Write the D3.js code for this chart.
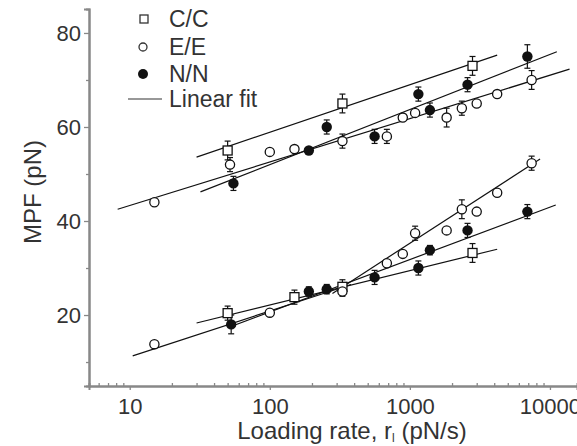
<!DOCTYPE html>
<html>
<head>
<meta charset="utf-8">
<script src="https://cdn.jsdelivr.net/npm/d3@7"></script>
<style>
  body { margin: 0; background: #fff; }
  svg { display: block; font-family: "Liberation Sans", Arial, sans-serif; }
</style>
</head>
<body>
<div id="chart"></div>
<script>
// values (loading rate in pN/s, MPF in pN)
var ccRates  = [50, 330, 2800, 50, 150, 330, 2800];
var ccForces = [55, 65, 73, 20.4, 23.8, 26, 33.2];
var ccErrors = [2, 2, 2, 1.5, 1.5, 1.5, 2];

var eeRates  = [15, 52, 100, 150, 330, 685, 890, 1090, 1830, 2350, 3000, 4200, 7400,
                15, 100, 330, 685, 890, 1090, 1830, 2350, 3000, 4200, 7400];
var eeForces = [44, 52, 54.7, 55.3, 57, 58, 62, 63, 62, 64, 65, 67, 70,
                13.8, 20.5, 25, 31, 33, 37.4, 38, 42.5, 42, 46, 52.3];
var eeErrors = [0, 1.5, 0, 0, 1.5, 1.5, 0, 0, 2, 1.5, 0, 0, 2,
                0, 0, 1, 0, 0, 1.5, 0, 2, 0, 0, 1.5];

var nnRates  = [55, 190, 255, 560, 1150, 1390, 2580, 6900,
                53, 190, 255, 560, 1150, 1390, 2580, 6900];
var nnForces = [48, 55, 60, 58, 67, 63.6, 69, 75,
                18, 25, 25.5, 28, 30, 33.8, 38, 42];
var nnErrors = [1.5, 0, 1.5, 1.5, 1.5, 1.5, 1.5, 2.5,
                2, 1, 1, 1.5, 1.5, 1, 1.5, 1.5];

// linear fits: start/end rate and force
var fitRates  = [[30, 4200], [32, 11200], [8.2, 13800], [30, 4200], [50, 11000], [10.5, 380], [280, 8500]];
var fitForces = [[53.6, 75.3], [46.2, 76], [42.5, 72.3], [18.3, 34], [17.3, 43.4], [11.3, 26.5], [24.6, 53.2]];

var legendLabels = ["C/C", "E/E", "N/N", "Linear fit"];
var yMajor = [20, 40, 60, 80];
var yMinor = [10, 30, 50, 70];
var xMajor = [10, 100, 1000, 10000];

var margin = {top: 9, right: 0, bottom: 60, left: 89},
    width = 577 - margin.left - margin.right,
    height = 446 - margin.top - margin.bottom;

var svg = d3.select("#chart").append("svg")
    .attr("width", 577)
    .attr("height", 446);

var g = svg.append("g")
    .attr("transform", "translate(" + margin.left + "," + margin.top + ")");

var x = d3.scaleLog().domain([5.12, 15600]).range([0, width]);
var y = d3.scaleLinear().domain([4.9, 85.1]).range([height, 0]);

var axisColor = "#888";
var textColor = "#333";

// x minor ticks (2..9 in every decade)
var xMinor = [];
[1, 10, 100, 1000].forEach(function(d) {
    for (var k = 2; k <= 9; k++) xMinor.push(d * k);
});
xMinor = xMinor.filter(function(v) { return v >= 5.12 && v <= 15600; });

var xMinorAxis = g.append("g")
    .attr("transform", "translate(0," + height + ")")
    .call(d3.axisBottom(x).tickValues(xMinor).tickSize(-3).tickFormat(""));
var xAxis = g.append("g")
    .attr("transform", "translate(0," + height + ")")
    .call(d3.axisBottom(x).tickValues(xMajor).tickSize(4).tickPadding(8)
        .tickFormat(d3.format("d")));

var yMinorAxis = g.append("g")
    .call(d3.axisLeft(y).tickValues(yMinor).tickSize(3).tickFormat(""));
var yAxis = g.append("g")
    .call(d3.axisLeft(y).tickValues(yMajor).tickSize(5).tickPadding(3));

[xMinorAxis, xAxis, yMinorAxis, yAxis].forEach(function(a) {
    a.select(".domain").attr("stroke", axisColor).attr("stroke-width", 2);
    a.selectAll(".tick line").attr("stroke", axisColor).attr("stroke-width", 1.3);
    a.selectAll("text").attr("fill", textColor).style("font-size", "22px");
});

// axis titles
g.append("text")
    .attr("transform", "rotate(-90)")
    .attr("x", -(192 - margin.top))
    .attr("y", -48)
    .attr("text-anchor", "middle")
    .attr("fill", textColor)
    .style("font-size", "24px")
    .text("MPF (pN)");

var xl = g.append("text")
    .attr("x", 352 - margin.left)
    .attr("y", 439 - margin.top)
    .attr("text-anchor", "middle")
    .attr("fill", textColor)
    .style("font-size", "24px");
xl.append("tspan").text("Loading rate, r");
xl.append("tspan").attr("dy", 3).style("font-size", "12px").text("l");
xl.append("tspan").attr("dy", -3).text(" (pN/s)");

// fit lines
var fits = fitRates.map(function(r, i) {
    return [[r[0], fitForces[i][0]], [r[1], fitForces[i][1]]];
});
g.selectAll(".fit")
    .data(fits)
    .enter().append("line")
    .attr("class", "fit")
    .attr("x1", function(d) { return x(d[0][0]); })
    .attr("y1", function(d) { return y(d[0][1]); })
    .attr("x2", function(d) { return x(d[1][0]); })
    .attr("y2", function(d) { return y(d[1][1]); })
    .attr("stroke", "#111")
    .attr("stroke-width", 1.2);

function toPoints(rates, forces, errs) {
    return rates.map(function(r, i) { return {r: r, f: forces[i], e: errs[i]}; });
}
var ccData = toPoints(ccRates, ccForces, ccErrors);
var eeData = toPoints(eeRates, eeForces, eeErrors);
var nnData = toPoints(nnRates, nnForces, nnErrors);

// error bars
function drawErrors(data) {
    var eb = g.append("g").selectAll("g")
        .data(data.filter(function(d) { return d.e > 0; }))
        .enter().append("g")
        .attr("stroke", "#111")
        .attr("stroke-width", 1.2);
    eb.append("line")
        .attr("x1", function(d) { return x(d.r); })
        .attr("x2", function(d) { return x(d.r); })
        .attr("y1", function(d) { return y(d.f - d.e); })
        .attr("y2", function(d) { return y(d.f + d.e); });
    eb.append("line")
        .attr("x1", function(d) { return x(d.r) - 3; })
        .attr("x2", function(d) { return x(d.r) + 3; })
        .attr("y1", function(d) { return y(d.f + d.e); })
        .attr("y2", function(d) { return y(d.f + d.e); });
    eb.append("line")
        .attr("x1", function(d) { return x(d.r) - 3; })
        .attr("x2", function(d) { return x(d.r) + 3; })
        .attr("y1", function(d) { return y(d.f - d.e); })
        .attr("y2", function(d) { return y(d.f - d.e); });
}
drawErrors(ccData);
drawErrors(eeData);
drawErrors(nnData);

// markers
g.selectAll(".cc")
    .data(ccData)
    .enter().append("rect")
    .attr("x", function(d) { return x(d.r) - 4.5; })
    .attr("y", function(d) { return y(d.f) - 4.5; })
    .attr("width", 9).attr("height", 9)
    .attr("fill", "#fff").attr("stroke", "#111").attr("stroke-width", 1.3);

g.selectAll(".ee")
    .data(eeData)
    .enter().append("circle")
    .attr("cx", function(d) { return x(d.r); })
    .attr("cy", function(d) { return y(d.f); })
    .attr("r", 4.6)
    .attr("fill", "#fff").attr("stroke", "#111").attr("stroke-width", 1.3);

g.selectAll(".nn")
    .data(nnData)
    .enter().append("circle")
    .attr("cx", function(d) { return x(d.r); })
    .attr("cy", function(d) { return y(d.f); })
    .attr("r", 5.2)
    .attr("fill", "#111");

// legend
var legend = svg.append("g");
var rowY = [19, 47, 74, 99];
legend.append("rect").attr("x", 140).attr("y", rowY[0] - 4).attr("width", 8).attr("height", 8)
    .attr("fill", "#fff").attr("stroke", "#333").attr("stroke-width", 1.3);
legend.append("circle").attr("cx", 143).attr("cy", rowY[1]).attr("r", 4)
    .attr("fill", "#fff").attr("stroke", "#333").attr("stroke-width", 1.3);
legend.append("circle").attr("cx", 143).attr("cy", rowY[2]).attr("r", 5).attr("fill", "#111");
legend.append("line").attr("x1", 128).attr("x2", 162).attr("y1", rowY[3]).attr("y2", rowY[3])
    .attr("stroke", "#333").attr("stroke-width", 1.2);
legend.selectAll(".lt")
    .data(legendLabels)
    .enter().append("text")
    .attr("x", 169)
    .attr("y", function(d, i) { return rowY[i] + 8; })
    .attr("fill", textColor)
    .style("font-size", "23px")
    .text(function(d) { return d; });
</script>
</body>
</html>
